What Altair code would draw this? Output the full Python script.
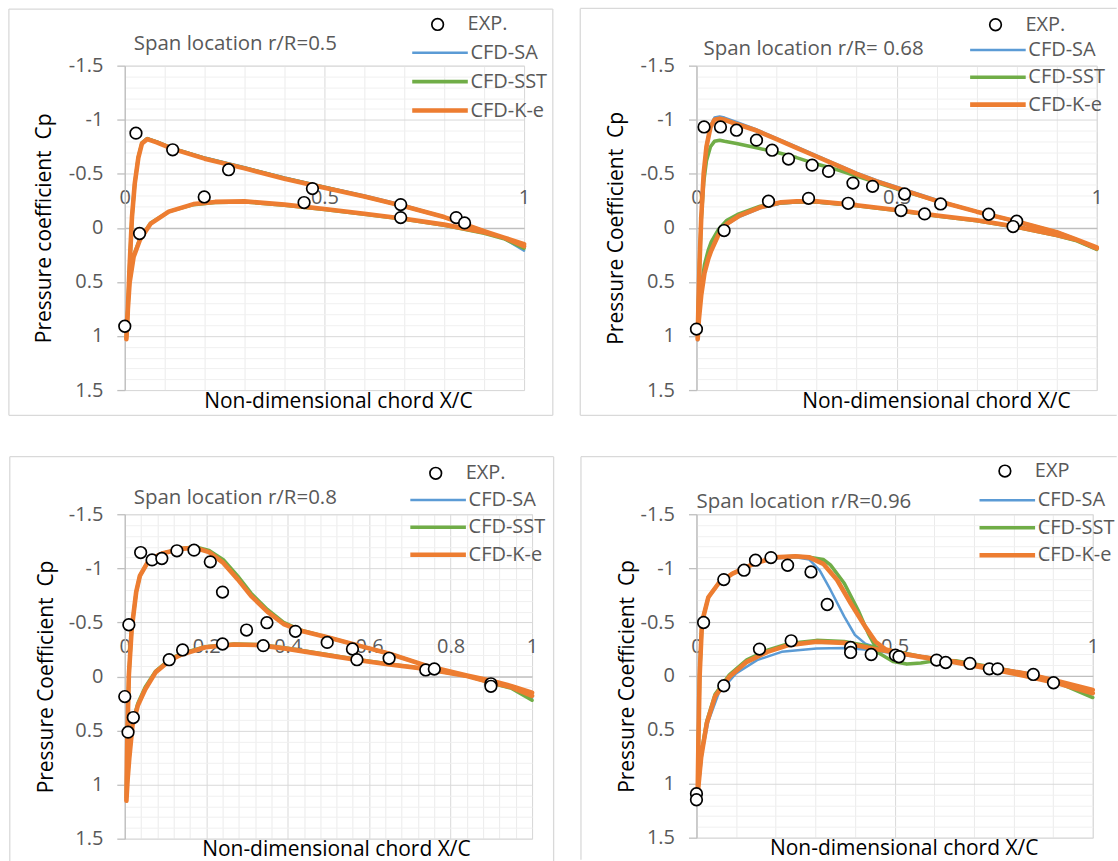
import altair as alt
import pandas as pd

FONT = "Open Sans"
TXT = "#595959"
MODELS = ["CFD-SA", "CFD-SST", "CFD-K-e"]
MODEL_COLORS = ["#5B9BD5", "#70AD47", "#ED7D31"]
MODEL_WIDTH_RANGE = [2.5, 4.6]

Y_MAJOR = [-1.5, -1, -0.5, 0, 0.5, 1, 1.5]
Y_MINOR = [-1.4, -1.3, -1.2, -1.1, -0.9, -0.8, -0.7, -0.6, -0.4, -0.3, -0.2, -0.1,
           0.1, 0.2, 0.3, 0.4, 0.6, 0.7, 0.8, 0.9, 1.1, 1.2, 1.3, 1.4]
X_MAJOR_A = [0, 0.5, 1]
X_MINOR_A = [0.1, 0.2, 0.3, 0.4, 0.6, 0.7, 0.8, 0.9]
X_MAJOR_B = [0, 0.2, 0.4, 0.6, 0.8, 1]
X_MINOR_B = [0.04, 0.08, 0.12, 0.16, 0.24, 0.28, 0.32, 0.36, 0.44, 0.48, 0.52, 0.56,
             0.64, 0.68, 0.72, 0.76, 0.84, 0.88, 0.92, 0.96]

# ---------------- Panel 1 : r/R = 0.5 ----------------
P1_EXP_X = [0.028, 0.120, 0.260, 0.199, 0.470, 0.449, 0.037, 0.0, 0.691, 0.691, 0.830, 0.851]
P1_EXP_CP = [-0.876, -0.722, -0.538, -0.286, -0.363, -0.234, 0.052, 0.91, -0.215, -0.095, -0.095, -0.046]
P1_UP_X = [1.0, 0.95, 0.9, 0.8, 0.7, 0.6, 0.5, 0.4, 0.3, 0.2, 0.12, 0.08, 0.056, 0.043, 0.034, 0.025, 0.018, 0.012, 0.007, 0.004]
P1_SA_UP = [0.21, 0.10, 0.03, -0.10, -0.21, -0.30, -0.38, -0.465, -0.56, -0.65, -0.74, -0.80, -0.83, -0.79, -0.66, -0.42, -0.12, 0.34, 0.80, 1.02]
P1_SST_UP = [0.19, 0.10, 0.03, -0.10, -0.20, -0.29, -0.375, -0.46, -0.555, -0.645, -0.735, -0.795, -0.825, -0.785, -0.655, -0.41, -0.10, 0.36, 0.82, 1.02]
P1_KE_UP = [0.15, 0.09, 0.03, -0.10, -0.20, -0.29, -0.37, -0.455, -0.55, -0.64, -0.73, -0.79, -0.82, -0.78, -0.65, -0.41, -0.10, 0.36, 0.82, 1.03]
P1_LO_X = [0.006, 0.012, 0.022, 0.038, 0.065, 0.11, 0.172, 0.226, 0.3, 0.4, 0.5, 0.6, 0.7, 0.8, 0.9, 0.95, 1.0]
P1_SA_LO = [0.85, 0.51, 0.27, 0.11, -0.04, -0.15, -0.22, -0.24, -0.245, -0.215, -0.175, -0.13, -0.085, -0.03, 0.045, 0.10, 0.21]
P1_SST_LO = [0.84, 0.50, 0.26, 0.10, -0.045, -0.15, -0.215, -0.235, -0.24, -0.21, -0.17, -0.125, -0.08, -0.025, 0.05, 0.10, 0.19]
P1_KE_LO = [0.85, 0.51, 0.27, 0.11, -0.04, -0.15, -0.22, -0.24, -0.245, -0.215, -0.175, -0.13, -0.085, -0.03, 0.04, 0.09, 0.17]

# ---------------- Panel 2 : r/R = 0.68 ----------------
P2_EXP_X = [0.019, 0.060, 0.100, 0.150, 0.189, 0.230, 0.289, 0.330, 0.391, 0.440, 0.520, 0.180, 0.280,
            0.379, 0.511, 0.570, 0.610, 0.730, 0.800, 0.791, 0.069, 0.0]
P2_EXP_CP = [-0.933, -0.933, -0.903, -0.811, -0.718, -0.636, -0.580, -0.522, -0.414, -0.384, -0.313, -0.246, -0.273,
             -0.227, -0.160, -0.129, -0.221, -0.126, -0.061, -0.012, 0.025, 0.936]
P2_UP_X = [1.0, 0.95, 0.9, 0.8, 0.7, 0.6, 0.5, 0.45, 0.4, 0.35, 0.3, 0.25, 0.2, 0.15, 0.1, 0.07, 0.058,
           0.045, 0.035, 0.025, 0.018, 0.012, 0.008, 0.005, 0.003]
P2_SA_UP = [0.20, 0.12, 0.05, -0.05, -0.15, -0.26, -0.38, -0.44, -0.51, -0.59, -0.67, -0.75, -0.83, -0.91, -0.98,
            -1.02, -1.03, -1.02, -0.95, -0.78, -0.52, -0.12, 0.30, 0.70, 1.04]
P2_SST_UP = [0.19, 0.11, 0.04, -0.06, -0.15, -0.25, -0.36, -0.42, -0.48, -0.54, -0.59, -0.65, -0.70, -0.74, -0.78,
             -0.80, -0.81, -0.80, -0.75, -0.62, -0.42, -0.08, 0.30, 0.70, 1.00]
P2_KE_UP = [0.19, 0.11, 0.04, -0.06, -0.15, -0.25, -0.37, -0.43, -0.50, -0.58, -0.66, -0.74, -0.82, -0.90, -0.96,
            -1.00, -1.01, -1.00, -0.93, -0.75, -0.50, -0.10, 0.30, 0.70, 1.03]
P2_LO_X = [0.006, 0.012, 0.02, 0.03, 0.037, 0.054, 0.076, 0.106, 0.159, 0.211, 0.25, 0.3, 0.4, 0.5, 0.6, 0.7, 0.8, 0.9, 0.95, 1.0]
P2_SA_LO = [0.86, 0.63, 0.43, 0.29, 0.22, 0.08, -0.03, -0.10, -0.18, -0.225, -0.235, -0.235, -0.205, -0.16, -0.11, -0.065, -0.005, 0.07, 0.12, 0.20]
P2_SST_LO = [0.80, 0.55, 0.34, 0.20, 0.13, 0.02, -0.07, -0.13, -0.20, -0.23, -0.24, -0.24, -0.205, -0.16, -0.11, -0.065, -0.005, 0.07, 0.12, 0.20]
P2_KE_LO = [0.85, 0.62, 0.42, 0.28, 0.21, 0.07, -0.037, -0.11, -0.19, -0.236, -0.245, -0.245, -0.21, -0.165, -0.115, -0.07, -0.01, 0.065, 0.11, 0.18]

# ---------------- Panel 3 : r/R = 0.8 ----------------
P3_EXP_X = [0.039, 0.067, 0.091, 0.128, 0.170, 0.210, 0.240, 0.299, 0.349, 0.419, 0.497, 0.559, 0.570, 0.649,
            0.739, 0.760, 0.899, 0.899, 0.109, 0.142, 0.240, 0.340, 0.0, 0.021, 0.008, 0.010]
P3_EXP_CP = [-1.146, -1.078, -1.091, -1.162, -1.168, -1.060, -0.780, -0.429, -0.497, -0.417, -0.315, -0.254, -0.155, -0.168,
             -0.060, -0.069, 0.068, 0.091, -0.155, -0.245, -0.300, -0.285, 0.186, 0.380, 0.515, -0.478]
P3_UP_X = [1.0, 0.95, 0.9, 0.84, 0.74, 0.65, 0.575, 0.5, 0.435, 0.39, 0.35, 0.31, 0.277, 0.242, 0.207, 0.172,
           0.137, 0.094, 0.06, 0.037, 0.028, 0.017, 0.01, 0.006, 0.004]
P3_SA_UP = [0.20, 0.10, 0.045, -0.01, -0.10, -0.21, -0.285, -0.36, -0.42, -0.49, -0.605, -0.75, -0.905, -1.055, -1.155,
            -1.195, -1.185, -1.145, -1.08, -0.93, -0.78, -0.44, -0.01, 0.61, 1.14]
P3_SST_UP = [0.22, 0.10, 0.045, -0.005, -0.10, -0.21, -0.285, -0.36, -0.425, -0.50, -0.62, -0.77, -0.93, -1.08, -1.165,
             -1.20, -1.18, -1.14, -1.08, -0.93, -0.78, -0.44, -0.01, 0.61, 1.12]
P3_KE_UP = [0.15, 0.09, 0.04, -0.01, -0.10, -0.21, -0.285, -0.36, -0.42, -0.485, -0.60, -0.745, -0.90, -1.05, -1.15,
            -1.19, -1.18, -1.14, -1.08, -0.93, -0.78, -0.44, -0.01, 0.61, 1.15]
P3_LO_X = [0.007, 0.011, 0.019, 0.032, 0.05, 0.076, 0.111, 0.137, 0.198, 0.268, 0.33, 0.4, 0.5, 0.575, 0.65, 0.74, 0.84, 0.9, 0.95, 1.0]
P3_SA_LO = [0.95, 0.76, 0.45, 0.27, 0.12, -0.04, -0.15, -0.20, -0.27, -0.295, -0.29, -0.255, -0.195, -0.15, -0.11, -0.07, -0.005, 0.055, 0.105, 0.20]
P3_SST_LO = [0.93, 0.74, 0.43, 0.25, 0.10, -0.05, -0.16, -0.21, -0.275, -0.30, -0.295, -0.26, -0.20, -0.155, -0.115, -0.07, -0.005, 0.06, 0.11, 0.22]
P3_KE_LO = [0.95, 0.76, 0.45, 0.27, 0.12, -0.04, -0.15, -0.20, -0.27, -0.295, -0.29, -0.255, -0.195, -0.15, -0.11, -0.07, -0.005, 0.055, 0.10, 0.18]

# ---------------- Panel 4 : r/R = 0.96 ----------------
P4_EXP_X = [0.018, 0.069, 0.120, 0.149, 0.188, 0.230, 0.289, 0.330, 0.389, 0.389, 0.441, 0.502, 0.511, 0.606, 0.629,
            0.690, 0.739, 0.760, 0.850, 0.901, 0.159, 0.239, 0.069, 0.0, 0.0]
P4_EXP_CP = [-0.496, -0.894, -0.981, -1.074, -1.098, -1.027, -0.965, -0.663, -0.264, -0.218, -0.199, -0.193, -0.178, -0.147,
             -0.125, -0.116, -0.066, -0.066, -0.014, 0.063, -0.249, -0.326, 0.091, 1.092, 1.148]
P4_SA_UP_X = [1.0, 0.918, 0.83, 0.742, 0.654, 0.566, 0.496, 0.461, 0.426, 0.40, 0.373, 0.338, 0.311, 0.285, 0.25,
              0.197, 0.144, 0.091, 0.056, 0.03, 0.014, 0.008, 0.005, 0.003]
P4_SA_UP = [0.16, 0.05, -0.03, -0.085, -0.14, -0.185, -0.215, -0.255, -0.30, -0.38, -0.55, -0.80, -0.98, -1.08, -1.10,
            -1.09, -1.04, -0.95, -0.86, -0.73, -0.50, 0.0, 0.60, 1.08]
P4_SA_LO_X = [0.008, 0.015, 0.03, 0.056, 0.1, 0.153, 0.215, 0.303, 0.373, 0.443, 0.514, 0.566, 0.654, 0.742, 0.83, 0.918, 1.0]
P4_SA_LO = [0.95, 0.70, 0.42, 0.16, -0.023, -0.147, -0.224, -0.255, -0.26, -0.24, -0.20, -0.17, -0.12, -0.06, 0.0, 0.07, 0.16]
P4_SST_UP_X = [1.0, 0.918, 0.83, 0.742, 0.654, 0.61, 0.566, 0.531, 0.496, 0.461, 0.434, 0.408, 0.373, 0.338, 0.32,
               0.285, 0.25, 0.197, 0.144, 0.091, 0.056, 0.03, 0.014, 0.008, 0.005, 0.003]
P4_SST_UP = [0.20, 0.06, -0.02, -0.085, -0.14, -0.145, -0.12, -0.11, -0.135, -0.21, -0.39, -0.61, -0.86, -1.03, -1.08,
             -1.10, -1.11, -1.10, -1.04, -0.95, -0.86, -0.73, -0.50, 0.0, 0.60, 1.10]
P4_KE_UP_X = [1.0, 0.918, 0.83, 0.742, 0.654, 0.566, 0.514, 0.478, 0.452, 0.426, 0.39, 0.355, 0.32, 0.285, 0.25,
              0.197, 0.144, 0.091, 0.056, 0.03, 0.014, 0.008, 0.005, 0.003]
P4_KE_UP = [0.13, 0.054, -0.023, -0.076, -0.131, -0.178, -0.21, -0.245, -0.317, -0.455, -0.67, -0.89, -1.04, -1.10, -1.11,
            -1.10, -1.04, -0.95, -0.86, -0.73, -0.50, 0.0, 0.60, 1.10]
P4_LO_X = [0.008, 0.012, 0.026, 0.047, 0.083, 0.127, 0.179, 0.232, 0.303, 0.373, 0.443, 0.514, 0.566, 0.654, 0.742, 0.83, 0.918, 1.0]
P4_SST_LO = [0.88, 0.72, 0.42, 0.17, -0.01, -0.15, -0.24, -0.30, -0.33, -0.32, -0.27, -0.22, -0.18, -0.13, -0.07, -0.005, 0.07, 0.20]
P4_KE_LO = [0.90, 0.75, 0.44, 0.19, 0.008, -0.131, -0.224, -0.286, -0.317, -0.307, -0.255, -0.21, -0.175, -0.125, -0.065, 0.0, 0.075, 0.16]


def line_df(model, up_x, up_cp, lo_x, lo_cp):
    xs = list(up_x) + list(lo_x)
    cps = list(up_cp) + list(lo_cp)
    return pd.DataFrame({"x": xs, "cp": cps, "model": model, "i": list(range(len(xs)))})


PANELS = [
    dict(w=400, h=325, title="Span location r/R=0.5", ytitle="Pressure coefficient\u00a0 Cp", exp="EXP.",
         xmajor=X_MAJOR_A, xminor=X_MINOR_A,
         exp_x=P1_EXP_X, exp_cp=P1_EXP_CP,
         lines=[("CFD-SA", P1_UP_X, P1_SA_UP, P1_LO_X, P1_SA_LO),
                ("CFD-SST", P1_UP_X, P1_SST_UP, P1_LO_X, P1_SST_LO),
                ("CFD-K-e", P1_UP_X, P1_KE_UP, P1_LO_X, P1_KE_LO)],
         cx=313.4, rows=(-41.3, -13.0), rowgap=29.0, tdx=9, tdy=56.5,
         ytx=-80.8, xtx=213.5,
         frame=[(-116.1, 428.8, -56.7, -56.7), (-116.1, -116.1, -56.7, 350.3),
                (428.8, 428.8, -56.7, 350.3), (-116.1, 428.8, 350.3, 350.3)]),
    dict(w=401, h=325, title="Span location r/R= 0.68", ytitle="Pressure Coefficient\u00a0 Cp", exp="EXP.",
         xmajor=X_MAJOR_A, xminor=X_MINOR_A,
         exp_x=P2_EXP_X, exp_cp=P2_EXP_CP,
         lines=[("CFD-SA", P2_UP_X, P2_SA_UP, P2_LO_X, P2_SA_LO),
                ("CFD-SST", P2_UP_X, P2_SST_UP, P2_LO_X, P2_SST_LO),
                ("CFD-K-e", P2_UP_X, P2_KE_UP, P2_LO_X, P2_KE_LO)],
         cx=299.6, rows=(-41.0, -15.6), rowgap=27.3, tdx=7, tdy=61.9,
         ytx=-80.2, xtx=239.9,
         frame=[(-116.4, 421.0, -57.3, -57.3), (-116.4, -116.4, -57.3, 350.3),
                (-116.4, 421.0, 350.3, 350.3)]),
    dict(w=408, h=325, title="Span location r/R=0.8", ytitle="Pressure Coefficient\u00a0 Cp", exp="EXP.",
         xmajor=X_MAJOR_B, xminor=X_MINOR_B,
         exp_x=P3_EXP_X, exp_cp=P3_EXP_CP,
         lines=[("CFD-SA", P3_UP_X, P3_SA_UP, P3_LO_X, P3_SA_LO),
                ("CFD-SST", P3_UP_X, P3_SST_UP, P3_LO_X, P3_SST_LO),
                ("CFD-K-e", P3_UP_X, P3_KE_UP, P3_LO_X, P3_KE_LO)],
         cx=311.5, rows=(-41.0, -14.4), rowgap=27.5, tdx=9, tdy=62.4,
         ytx=-78.8, xtx=211.5,
         frame=[(-115.2, 429.6, -57.7, -57.7), (-115.2, -115.2, -57.7, 348.0),
                (429.6, 429.6, -57.7, 348.0)]),
    dict(w=397, h=324, title="Span location r/R=0.96", ytitle="Pressure Coefficient\u00a0 Cp", exp="EXP",
         xmajor=X_MAJOR_A, xminor=X_MINOR_A,
         exp_x=P4_EXP_X, exp_cp=P4_EXP_CP,
         lines=[("CFD-SA", P4_SA_UP_X, P4_SA_UP, P4_SA_LO_X, P4_SA_LO),
                ("CFD-SST", P4_SST_UP_X, P4_SST_UP, P4_LO_X, P4_SST_LO),
                ("CFD-K-e", P4_KE_UP_X, P4_KE_UP, P4_LO_X, P4_KE_LO)],
         cx=309.0, rows=(-43.3, -14.0), rowgap=27.5, tdx=0, tdy=66.5,
         ytx=-68.8, xtx=207.6,
         frame=[(-115.7, 421.0, -57.7, -57.7), (-115.7, -115.7, -57.7, 346.0)]),
]


def panel(p):
    w, h = p["w"], p["h"]
    xs = alt.Scale(domain=[0, 1], nice=False, zero=False)
    ys = alt.Scale(domain=[-1.5, 1.5], reverse=True, nice=False, zero=False)

    layers = []
    for (x1, x2, y1, y2) in p["frame"]:
        layers.append(
            alt.Chart(alt.Data(values=[{"k": 1}]))
            .mark_rule(stroke="#D9D9D9", strokeWidth=1.3)
            .encode(x=alt.value(x1), x2=alt.value(x2), y=alt.value(y1), y2=alt.value(y2))
        )

    line_leg = alt.Legend(
        orient="none", legendX=p["cx"] - 28.1, legendY=p["rows"][1] - 10, title=None,
        symbolType="stroke", symbolSize=3100, clipHeight=20, labelFont=FONT, labelFontSize=20,
        labelColor=TXT, labelOffset=0, rowPadding=p["rowgap"] - 20, padding=0,
        direction="vertical", columns=1,
    )
    color = alt.Color("model:N", scale=alt.Scale(domain=MODELS, range=MODEL_COLORS), legend=line_leg)
    swidth = alt.StrokeWidth("model:N", scale=alt.Scale(type="point", domain=MODELS, range=MODEL_WIDTH_RANGE, padding=0),
                             legend=line_leg)

    ax_minor_x = alt.Axis(orient="bottom", values=p["xminor"], grid=True, gridColor="#EBEBEB", gridWidth=1,
                          labels=False, ticks=False, domain=False, title=None)
    ax_minor_y = alt.Axis(orient="left", values=Y_MINOR, grid=True, gridColor="#F0F0F0", gridWidth=1,
                          labels=False, ticks=False, domain=False, title=None)
    ax_title_x = alt.Axis(orient="bottom", values=p["xmajor"], grid=True, gridColor="#D9D9D9", gridWidth=1,
                          labels=False, ticks=False, domain=False,
                          title="Non-dimensional chord X/C", titleFont=FONT, titleFontSize=21,
                          titleFontWeight="normal", titleColor="#000000", titlePadding=0, titleX=p["xtx"])
    ax_label_x = alt.Axis(orient="top", offset=-h / 2, values=p["xmajor"], grid=False, labels=True,
                          labelExpr="datum.value + ''", labelPadding=20, labelFont=FONT, labelFontSize=20,
                          labelColor=TXT, labelFlush=False, labelOverlap=False,
                          ticks=False, tickSize=0, domain=True, domainColor="#BFBFBF", domainWidth=1.3, title=None)
    ax_main_y = alt.Axis(orient="left", values=Y_MAJOR, grid=True, gridColor="#D9D9D9", gridWidth=1,
                         labelExpr="datum.value + ''", labelPadding=14, labelFont=FONT, labelFontSize=20,
                         labelColor=TXT, labelFlush=False, labelOverlap=False,
                         ticks=True, tickSize=8, tickColor="#BFBFBF", tickWidth=1.3,
                         domain=True, domainColor="#BFBFBF", domainWidth=1.3,
                         title=p["ytitle"], titleFont=FONT, titleFontSize=21, titleFontWeight="normal",
                         titleColor="#000000", titleX=p["ytx"], titleY=h / 2, titleBaseline="middle",
                         titleAngle=270, titleAlign="center")

    axes = [(ax_minor_x, ax_minor_y), (ax_title_x, ax_main_y), (ax_label_x, None)]
    for (model, ux, ucp, lx, lcp), (axx, axy) in zip(p["lines"], axes):
        df = line_df(model, ux, ucp, lx, lcp)
        layers.append(
            alt.Chart(df).mark_line(strokeJoin="round", strokeCap="round").encode(
                x=alt.X("x:Q", scale=xs, axis=axx),
                y=alt.Y("cp:Q", scale=ys, axis=axy),
                color=color,
                strokeWidth=swidth,
                order="i:Q",
            )
        )

    exp_leg = alt.Legend(
        orient="none", legendX=p["cx"] - 10, legendY=p["rows"][0] - 10, title=None,
        symbolType="circle", symbolFillColor="white", symbolStrokeWidth=1.7, symbolSize=135,
        symbolOpacity=1, labelFont=FONT, labelFontSize=20, labelColor=TXT, labelOffset=20, padding=0,
    )
    pdf = pd.DataFrame({"x": p["exp_x"], "cp": p["exp_cp"], "src": p["exp"]})
    layers.append(
        alt.Chart(pdf).mark_point(shape="circle", filled=False, fill="white", strokeWidth=1.7,
                                  size=135, opacity=1).encode(
            x=alt.X("x:Q", scale=xs, axis=None),
            y=alt.Y("cp:Q", scale=ys, axis=None),
            stroke=alt.Stroke("src:N", scale=alt.Scale(domain=[p["exp"]], range=["#000000"]), legend=exp_leg),
        )
    )

    return alt.layer(*layers).resolve_axis(x="independent", y="independent").properties(
        width=w, height=h,
        title=alt.TitleParams(p["title"], anchor="start", frame="group", font=FONT, fontSize=20.5,
                              fontWeight="normal", color=TXT, baseline="middle", offset=0,
                              dx=p["tdx"], dy=p["tdy"]),
    )


def indep(c):
    return c.resolve_scale(color="independent", stroke="independent", strokeWidth="independent")


charts = [panel(p) for p in PANELS]
row1 = indep(alt.hconcat(charts[0], charts[1], spacing=24.7))
row2 = indep(alt.hconcat(charts[2], charts[3], spacing=24.7))
chart = indep(alt.vconcat(row1, row2, spacing=38.4)).properties(
    padding={"left": 7, "top": 6, "right": 0, "bottom": 0},
    background="white",
).configure_view(stroke=None).configure(font=FONT)

chart.save("out.html", embed_options={"renderer": "svg", "actions": False})
